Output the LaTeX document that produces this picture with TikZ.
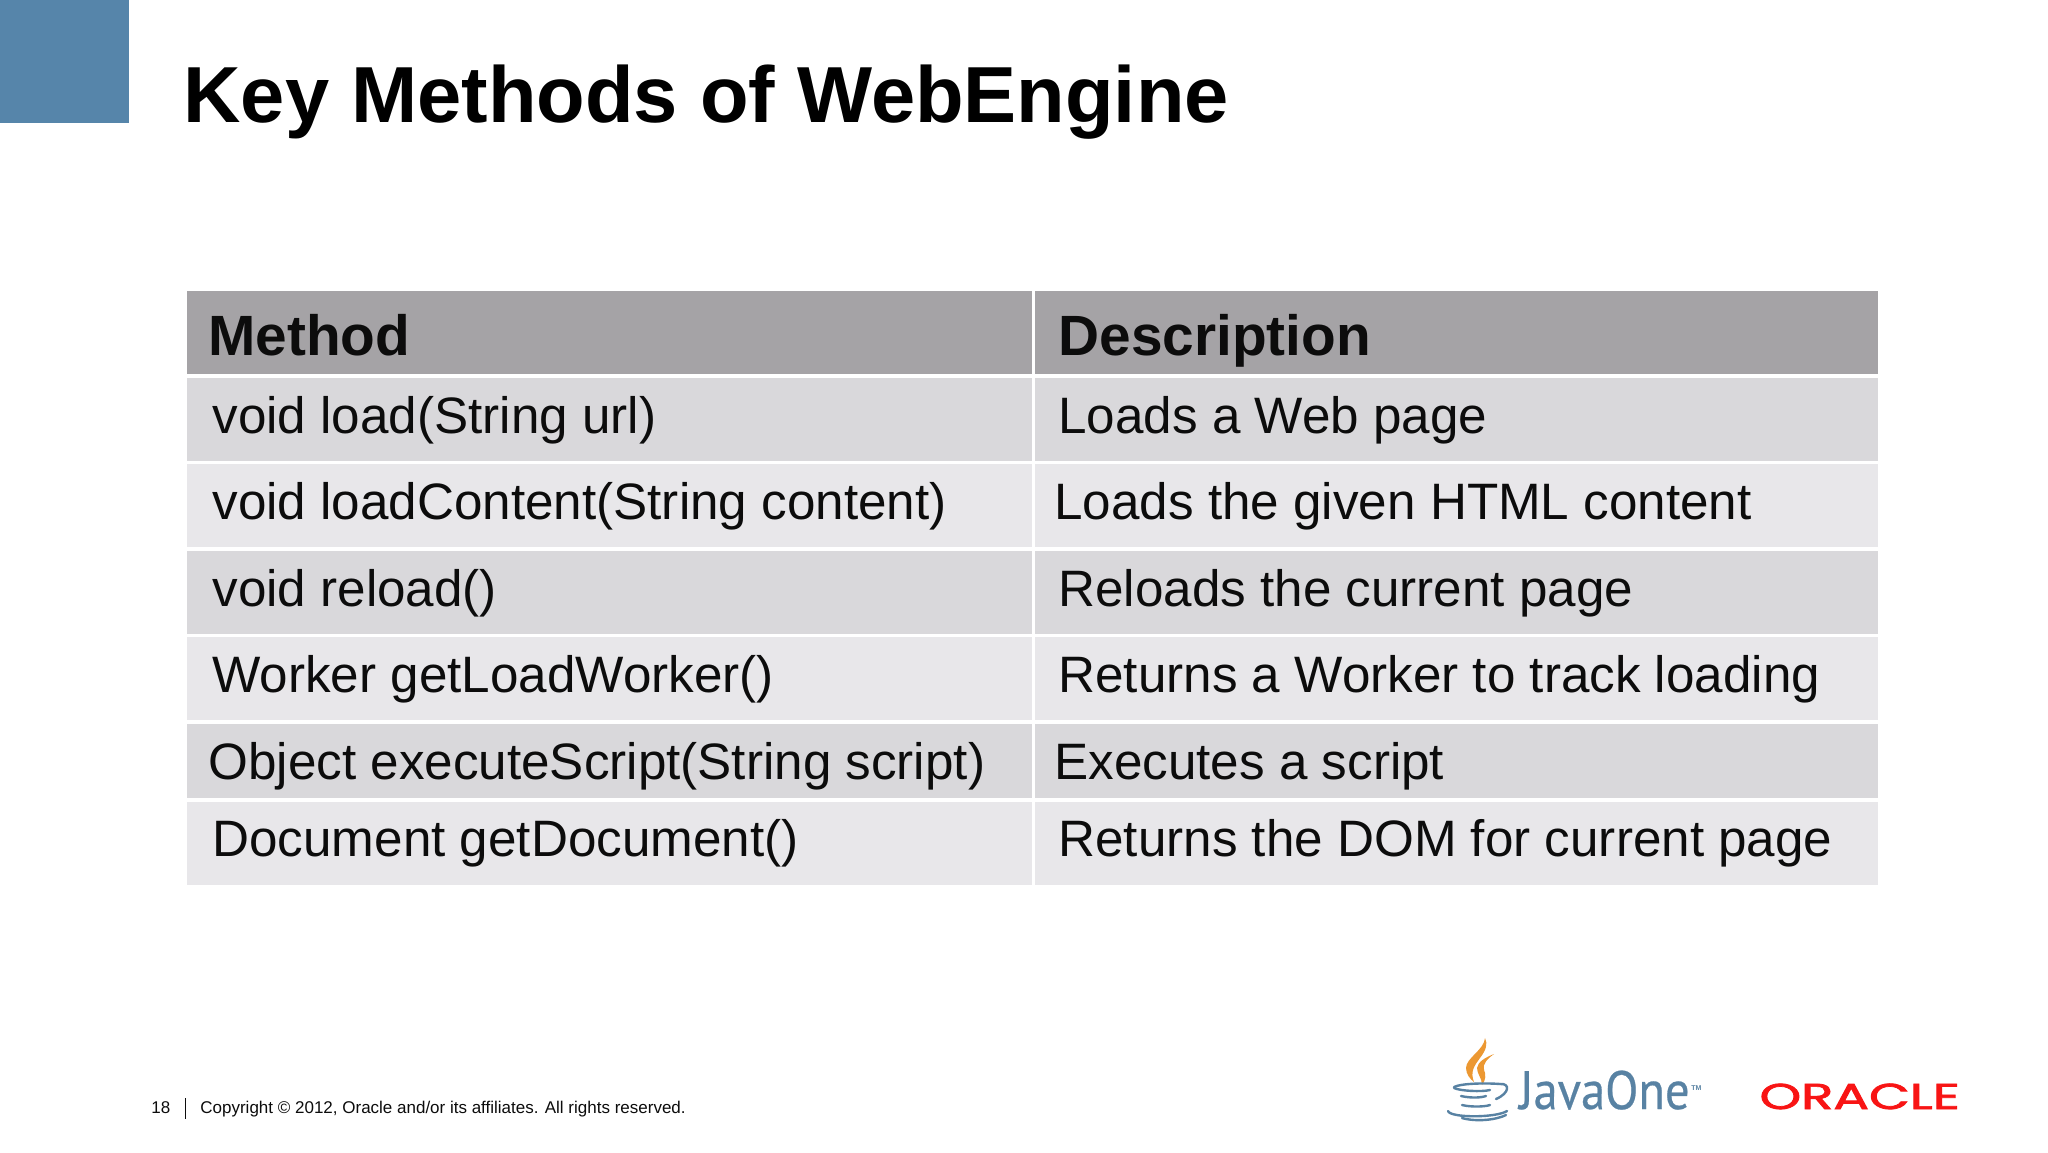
\documentclass[tikz,border=0pt]{standalone}
\usepackage{fontspec}
\setmainfont{Liberation Sans}
\newfontfamily\javafont[FakeBold=0.5]{PT Sans}
\newfontfamily\oraclefont[FakeBold=2]{Poppins}
\usepackage{xcolor}
\usetikzlibrary{positioning}
\definecolor{cornerblue}{RGB}{86,133,170}
\definecolor{headgrey}{RGB}{165,163,166}
\definecolor{darkrow}{RGB}{217,216,219}
\definecolor{lightrow}{RGB}{232,231,234}
\definecolor{inkblack}{RGB}{12,12,12}
\definecolor{javablue}{RGB}{88,130,163}
\definecolor{javaorange}{RGB}{236,152,50}
\definecolor{oraclered}{RGB}{248,20,20}
\tikzset{
  cell/.style={draw=none,inner sep=0pt,outer sep=0pt,minimum width=422.5pt,minimum height=41.5pt,anchor=north west},
  desccell/.style={cell,minimum width=421.5pt},
  headrow/.style={fill=headgrey},
  rowdark/.style={fill=darkrow},
  rowlight/.style={fill=lightrow},
  headtext/.style={inner sep=0pt,anchor=base west,font=\fontsize{28.4}{30}\selectfont\bfseries,text=inkblack},
  celltext/.style={inner sep=0pt,anchor=base west,font=\fontsize{25.6}{30}\selectfont,text=inkblack},
  foottext/.style={inner sep=0pt,anchor=base west,font=\fontsize{8.5}{10}\selectfont,text=inkblack},
  saucer/.style={draw=javablue,line width=1.2pt,line cap=round}
}
\begin{document}
\begin{tikzpicture}[x=0.5pt,y=-0.5pt,node distance=1.75pt]
  \useasboundingbox (0,0) rectangle (2048,1152);
  \fill [white] (0,0) rectangle (2048,1152);
  \fill [cornerblue] (0,0) rectangle (129,123);
  \node [inner sep=0pt,anchor=base west,font=\fontsize{39.75}{44}\selectfont\bfseries,text=black] (title) at (183,122) {Key Methods of WebEngine};
  % table cells
  \node [cell,headrow] (m0) at (187,291) {};
  \node [cell,rowdark,below=of m0] (m1) {};
  \node [cell,rowlight,below=of m1] (m2) {};
  \node [cell,rowdark,below=of m2] (m3) {};
  \node [cell,rowlight,below=of m3] (m4) {};
  \node [cell,rowdark,minimum height=37.25pt,below=of m4] (m5) {};
  \node [cell,rowlight,below=of m5] (m6) {};
  \node [desccell,headrow,right=1.5pt of m0] (d0) {};
  \node [desccell,rowdark,right=1.5pt of m1] (d1) {};
  \node [desccell,rowlight,right=1.5pt of m2] (d2) {};
  \node [desccell,rowdark,right=1.5pt of m3] (d3) {};
  \node [desccell,rowlight,right=1.5pt of m4] (d4) {};
  \node [desccell,rowdark,minimum height=37.25pt,right=1.5pt of m5] (d5) {};
  \node [desccell,rowlight,right=1.5pt of m6] (d6) {};
  % table text
  \node [headtext] (method) at (208,355) {Method};
  \node [headtext] (descr) at (1058,355) {Description};
  \node [celltext] (t1) at (212,433) {void load(String url)};
  \node [celltext] (t2) at (212,519) {void loadContent(String content)};
  \node [celltext] (t3) at (212,606) {void reload()};
  \node [celltext] (t4) at (212,692) {Worker getLoadWorker()};
  \node [celltext] (t5) at (208,779) {Object executeScript(String script)};
  \node [celltext] (t6) at (212,856) {Document getDocument()};
  \node [celltext] (s1) at (1058,433) {Loads a Web page};
  \node [celltext] (s2) at (1054,519) {Loads the given HTML content};
  \node [celltext] (s3) at (1058,606) {Reloads the current page};
  \node [celltext] (s4) at (1058,692) {Returns a Worker to track loading};
  \node [celltext] (s5) at (1054,779) {Executes a script};
  \node [celltext] (s6) at (1058,856) {Returns the DOM for current page};
  % footer
  \node [foottext] (page) at (151,1113) {18};
  \draw [inkblack,line width=0.5pt] (185,1098) -- (185,1119);
  \node [foottext] (copy) at (200,1113) {Copyright © 2012, Oracle and/or its affiliates. All rights reserved.};
  % java cup
  \fill [javaorange] (1485,1038) .. controls (1484,1050) and (1466,1058) .. (1466,1068) .. controls (1466,1074) and (1470,1079) .. (1474,1082) .. controls (1470,1072) and (1474,1066) .. (1480,1058) .. controls (1486,1050) and (1488,1044) .. (1485,1038);
  \fill [javaorange] (1494,1054) .. controls (1484,1058) and (1478,1062) .. (1477,1068) .. controls (1477,1074) and (1482,1078) .. (1482,1085) .. controls (1486,1080) and (1486,1074) .. (1484,1070) .. controls (1482,1064) and (1488,1058) .. (1494,1054);
  \draw [saucer] (1454,1087) .. controls (1462,1083) and (1488,1083) .. (1500,1084);
  \draw [saucer] (1454,1088) .. controls (1460,1091) and (1482,1092) .. (1490,1090);
  \draw [saucer] (1500,1084) .. controls (1510,1083) and (1510,1093) .. (1496,1099);
  \draw [saucer] (1461,1096) .. controls (1470,1098) and (1480,1098) .. (1486,1096);
  \draw [saucer] (1462,1105) .. controls (1470,1107) and (1484,1107) .. (1490,1105);
  \draw [saucer] (1448,1111) .. controls (1450,1118) and (1496,1118) .. (1507,1111);
  \draw [saucer] (1462,1118) .. controls (1476,1122) and (1496,1120) .. (1506,1115);
  % logo words
  \node [inner sep=0pt,anchor=base west,xscale=0.9,font=\javafont\fontsize{27}{28}\selectfont,text=javablue] (java) at (1519,1109) {JavaOne};
  \node [inner sep=0pt,anchor=base west,font=\fontsize{3.5}{5}\selectfont\bfseries,text=javablue] (tm) at (1691,1090) {TM};
  \node [inner sep=0pt,anchor=base west,xscale=1.47,font=\oraclefont\fontsize{18}{20}\selectfont,text=oraclered] (oracle) at (1759,1109) {ORACLE};
\end{tikzpicture}
\end{document}
